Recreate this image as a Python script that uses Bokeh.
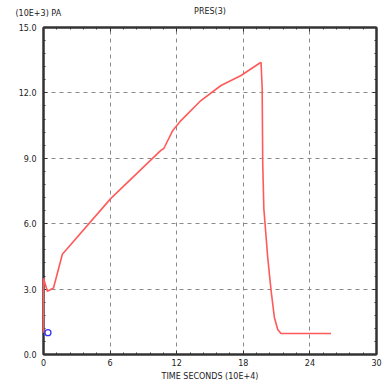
from bokeh.plotting import figure
from bokeh.models import LinearAxis, FixedTicker, Label, Range1d
from bokeh.embed import file_html
from bokeh.resources import INLINE

# ---- data ----
time_x = [0.0, 0.0, 0.35, 0.9, 1.7, 6.05, 10.57, 10.84, 11.65, 12.38, 14.18,
          15.99, 17.8, 19.42, 19.6, 19.7, 19.75, 19.85, 20.2, 20.5, 20.8,
          21.1, 21.4, 25.9]
pres = [1.0, 3.5, 2.9, 3.05, 4.6, 7.15, 9.36, 9.45, 10.28, 10.73, 11.65,
        12.34, 12.8, 13.35, 13.4, 12.2, 8.8, 6.7, 4.45, 2.94, 1.7,
        1.15, 0.96, 0.96]
marker_x = [0.4]
marker_y = [1.0]

x_ticks = [0, 6, 12, 18, 24, 30]
x_tick_labels = ["0", "6", "12", "18", "24", "30"]
y_ticks = [0, 3, 6, 9, 12, 15]
y_tick_labels = ["0.0", "3.0", "6.0", "9.0", "12.0", "15.0"]
x_title = "TIME SECONDS (10E+4)"
y_title = "(10E+3) PA"
plot_title = "PRES(3)"

FONT = "DejaVu Sans"
FS = "8px"

p = figure(width=384, height=387, output_backend="svg", toolbar_location=None,
           x_range=Range1d(0, 30), y_range=Range1d(0, 15),
           min_border_left=43, min_border_right=8, min_border_top=27,
           min_border_bottom=33, background_fill_color="white",
           border_fill_color="white")
p.outline_line_color = "#333333"
p.outline_line_width = 2

p.title.text = plot_title
p.title.align = "center"
p.title.text_font = FONT
p.title.text_font_size = FS
p.title.text_font_style = "normal"
p.title.text_color = "#222222"
p.title.standoff = 5

def minor(ticks, n=5):
    out = []
    for a, b in zip(ticks[:-1], ticks[1:]):
        step = (b - a) / n
        out += [a + step * i for i in range(1, n)]
    return out

xt = FixedTicker(ticks=x_ticks, minor_ticks=minor(x_ticks))
yt = FixedTicker(ticks=y_ticks, minor_ticks=minor(y_ticks))

def style(ax):
    ax.axis_line_color = "#333333"
    ax.axis_line_width = 2
    ax.major_tick_in = 4
    ax.major_tick_out = 0
    ax.minor_tick_in = 2
    ax.minor_tick_out = 0
    ax.major_tick_line_color = "#333333"
    ax.minor_tick_line_color = "#333333"
    ax.major_label_text_font = FONT
    ax.major_label_text_font_size = FS
    ax.major_label_text_color = "#222222"
    ax.axis_label_text_font = FONT
    ax.axis_label_text_font_size = FS
    ax.axis_label_text_font_style = "normal"
    ax.axis_label_text_color = "#222222"

xa = p.xaxis[0]
xa.ticker = xt
xa.major_label_overrides = {t: l for t, l in zip(x_ticks, x_tick_labels)}
xa.axis_label = x_title
xa.major_label_standoff = 4
xa.axis_label_standoff = 3
style(xa)

ya = p.yaxis[0]
ya.ticker = yt
ya.major_label_overrides = {t: l for t, l in zip(y_ticks, y_tick_labels)}
ya.major_label_standoff = 7
style(ya)

top = LinearAxis(ticker=FixedTicker(ticks=x_ticks, minor_ticks=minor(x_ticks)))
style(top)
top.major_label_overrides = {t: "" for t in x_ticks}
top.major_label_standoff = 0
p.add_layout(top, "above")
right = LinearAxis(ticker=FixedTicker(ticks=y_ticks, minor_ticks=minor(y_ticks)))
style(right)
right.major_label_overrides = {t: "" for t in y_ticks}
right.major_label_standoff = 0
p.add_layout(right, "right")

p.xgrid.ticker = xt
p.ygrid.ticker = yt
for g in (p.xgrid[0], p.ygrid[0]):
    g.grid_line_color = "#8a8a8a"
    g.grid_line_dash = "4 4"
    g.grid_line_width = 1

p.line(time_x, pres, line_color="#ff5a5a", line_width=1.6, level="overlay")
p.scatter(marker_x, marker_y, marker="circle", size=6, fill_color=None,
          line_color="#3333ff", line_width=1.3, level="overlay")

# y-axis unit text, placed in the panel above the frame
p.add_layout(Label(x=-28, y=14, x_units="screen", y_units="screen",
                   text=y_title, text_font=FONT, text_font_size=FS,
                   text_color="#222222", text_align="left",
                   text_baseline="middle"), "above")

open("out.html", "w").write(file_html(p, INLINE))
